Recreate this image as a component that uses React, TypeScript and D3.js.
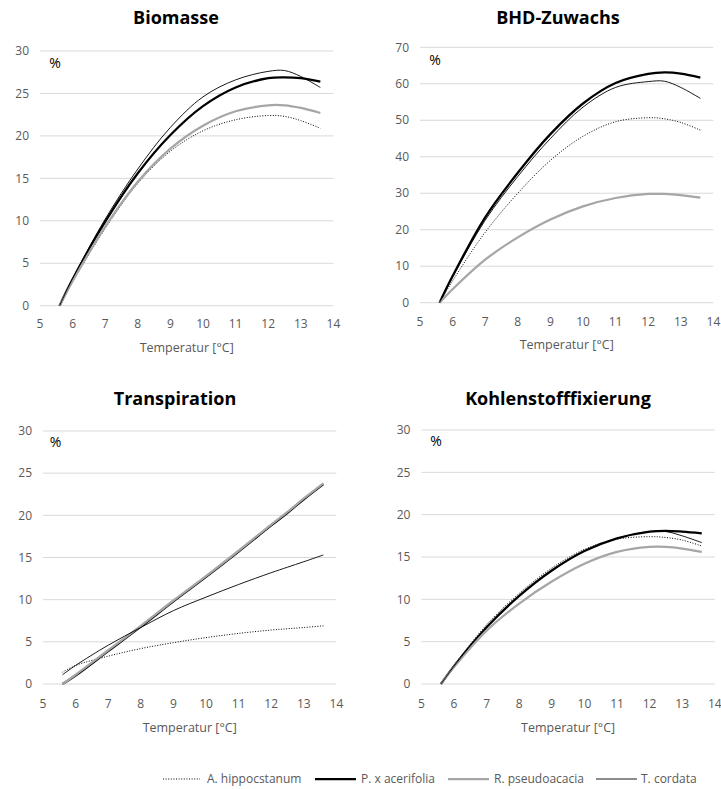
import React from "react";
import * as d3 from "d3";

// Temperature grid (°C) at which each modelled response is given
const TEMPS = [5.6, 6, 7, 8, 9, 10, 11, 12, 12.5, 13, 13.6];
const X_TICKS = [5, 6, 7, 8, 9, 10, 11, 12, 13, 14];

const SPECIES = ["A. hippocstanum", "P. x acerifolia", "R. pseudoacacia", "T. cordata"];

// Biomasse (%)
const BIOMASSE_A = [0, 2.8, 9.1, 14.4, 18.2, 20.6, 21.9, 22.4, 22.3, 21.8, 20.9];
const BIOMASSE_P = [0, 3.1, 9.9, 15.6, 20.1, 23.5, 25.7, 26.8, 26.9, 26.8, 26.4];
const BIOMASSE_R = [0, 2.9, 9.3, 14.6, 18.5, 21.2, 22.9, 23.6, 23.6, 23.3, 22.7];
const BIOMASSE_T = [0, 3.2, 10.2, 16.1, 21.0, 24.6, 26.6, 27.6, 27.7, 27.0, 25.7];

// BHD-Zuwachs (%)
const BHD_A = [0, 6.0, 19.3, 30.0, 39.0, 45.6, 49.6, 50.7, 50.4, 49.4, 47.3];
const BHD_P = [0, 7.3, 23.4, 35.6, 46.2, 54.6, 60.2, 62.7, 63.1, 62.8, 61.7];
const BHD_R = [0, 3.7, 11.8, 17.9, 22.8, 26.4, 28.7, 29.8, 29.8, 29.5, 28.8];
const BHD_T = [0, 7.0, 22.6, 34.6, 45.0, 53.6, 59.0, 60.6, 60.7, 59.0, 56.0];

// Transpiration (%)
const TRANSP_A = [1.4, 2.2, 3.3, 4.2, 4.9, 5.5, 6.0, 6.4, 6.55, 6.7, 6.9];
const TRANSP_P = [0, 1.0, 3.9, 6.8, 9.8, 12.7, 15.7, 18.8, 20.3, 21.9, 23.7];
const TRANSP_R = [0, 1.1, 4.0, 6.9, 9.9, 12.8, 15.8, 18.9, 20.4, 22.0, 23.8];
const TRANSP_T = [1.1, 2.2, 4.6, 6.7, 8.7, 10.3, 11.8, 13.2, 13.85, 14.5, 15.3];

// Kohlenstofffixierung (%)
const KOHLEN_A = [0, 2.2, 7.0, 10.7, 13.7, 15.9, 17.1, 17.4, 17.3, 17.0, 16.3];
const KOHLEN_P = [0, 2.1, 6.7, 10.4, 13.4, 15.7, 17.2, 18.0, 18.1, 18.0, 17.8];
const KOHLEN_R = [0, 2.0, 6.3, 9.5, 12.1, 14.2, 15.6, 16.2, 16.2, 16.0, 15.6];
const KOHLEN_T = [0, 2.1, 6.7, 10.4, 13.4, 15.7, 17.2, 18.0, 18.0, 17.5, 16.7];

const FONT = "'Open Sans', 'Noto Sans', sans-serif";
const TICK_COLOR = "#595959";
const GRID_COLOR = "#d9d9d9";

type LineStyle = { stroke: string; width: number; dash?: string };
const STYLES: LineStyle[] = [
  { stroke: "#000", width: 1, dash: "1 1.6" },
  { stroke: "#000", width: 2.25 },
  { stroke: "#a6a6a6", width: 2.25 },
  { stroke: "#000", width: 0.9 },
];

type PanelDef = {
  title: string;
  yMax: number;
  yStep: number;
  series: number[][];
  left: number;
  right: number;
  top: number;
  bottom: number;
  titleX: number;
  titleY: number;
  tickY: number;
  axisTitleY: number;
  pctX: number;
  pctY: number;
};

const PANELS: PanelDef[] = [
  {
    title: "Biomasse", yMax: 30, yStep: 5,
    series: [BIOMASSE_A, BIOMASSE_P, BIOMASSE_R, BIOMASSE_T],
    left: 40, right: 333.4, top: 51, bottom: 305.7,
    titleX: 176, titleY: 24, tickY: 328, axisTitleY: 352, pctX: 55, pctY: 68,
  },
  {
    title: "BHD-Zuwachs", yMax: 70, yStep: 10,
    series: [BHD_A, BHD_P, BHD_R, BHD_T],
    left: 420, right: 713.4, top: 47.3, bottom: 302.7,
    titleX: 558, titleY: 24, tickY: 325.5, axisTitleY: 349, pctX: 435, pctY: 65,
  },
  {
    title: "Transpiration", yMax: 30, yStep: 5,
    series: [TRANSP_A, TRANSP_P, TRANSP_R, TRANSP_T],
    left: 43, right: 336.4, top: 431, bottom: 684,
    titleX: 175, titleY: 405, tickY: 708, axisTitleY: 732, pctX: 55.5, pctY: 447,
  },
  {
    title: "Kohlenstofffixierung", yMax: 30, yStep: 5,
    series: [KOHLEN_A, KOHLEN_P, KOHLEN_R, KOHLEN_T],
    left: 421.4, right: 714.8, top: 430, bottom: 684,
    titleX: 558, titleY: 405, tickY: 708, axisTitleY: 732, pctX: 436, pctY: 446,
  },
];

function Panel({ p }: { p: PanelDef }) {
  const x = d3.scaleLinear().domain([5, 14]).range([p.left, p.right]);
  const y = d3.scaleLinear().domain([0, p.yMax]).range([p.bottom, p.top]);
  const yTicks = d3.range(0, p.yMax + 0.001, p.yStep);
  const line = d3
    .line<[number, number]>()
    .x((d) => x(d[0]))
    .y((d) => y(d[1]))
    .curve(d3.curveCatmullRom.alpha(0.5));

  return (
    <g>
      <text x={p.titleX} y={p.titleY} textAnchor="middle" fontFamily={FONT}
        fontWeight={700} fontSize={18} fill="#000">{p.title}</text>
      {yTicks.map((t) => (
        <g key={t}>
          <line x1={p.left} x2={p.right} y1={y(t)} y2={y(t)} stroke={GRID_COLOR} strokeWidth={1} />
          <text x={p.left - 11} y={y(t) + 4.2} textAnchor="end" fontFamily={FONT}
            fontSize={12} fill={TICK_COLOR}>{t}</text>
        </g>
      ))}
      {X_TICKS.map((t) => (
        <text key={t} x={x(t)} y={p.tickY} textAnchor="middle" fontFamily={FONT}
          fontSize={12} fill={TICK_COLOR}>{t}</text>
      ))}
      <text x={(p.left + p.right) / 2} y={p.axisTitleY} textAnchor="middle" fontFamily={FONT}
        fontSize={12.5} fill={TICK_COLOR}>Temperatur [°C]</text>
      <text x={p.pctX} y={p.pctY} textAnchor="middle" fontFamily={FONT}
        fontSize={14} fill="#000">%</text>
      {p.series.map((vals, i) => {
        const pts = TEMPS.map((t, k) => [t, vals[k]] as [number, number]);
        const s = STYLES[i];
        return (
          <path key={i} d={line(pts) ?? ""} fill="none" stroke={s.stroke}
            strokeWidth={s.width} strokeDasharray={s.dash} strokeLinejoin="round" />
        );
      })}
    </g>
  );
}

// Legend entries: sample-line start, sample-line end, label start
const LEGEND_POS = [
  [163, 200, 207],
  [315, 356, 361],
  [448, 489, 494],
  [596, 637, 641],
];

export default function App() {
  const W = 721;
  const H = 789;
  const legendY = 779;
  return (
    <svg width={W} height={H} style={{ position: "absolute", left: 0, top: 0, background: "#fff" }}>
      <rect width={W} height={H} fill="#fff" />
      {PANELS.map((p) => (
        <Panel key={p.title} p={p} />
      ))}
      {SPECIES.map((name, i) => {
        const [a, b, tx] = LEGEND_POS[i];
        const s = STYLES[i];
        return (
          <g key={name}>
            <line x1={a} x2={b} y1={legendY} y2={legendY} stroke={s.stroke}
              strokeWidth={s.width} strokeDasharray={s.dash} />
            <text x={tx} y={legendY + 4} fontFamily={FONT} fontSize={12} fill={TICK_COLOR}>{name}</text>
          </g>
        );
      })}
    </svg>
  );
}
